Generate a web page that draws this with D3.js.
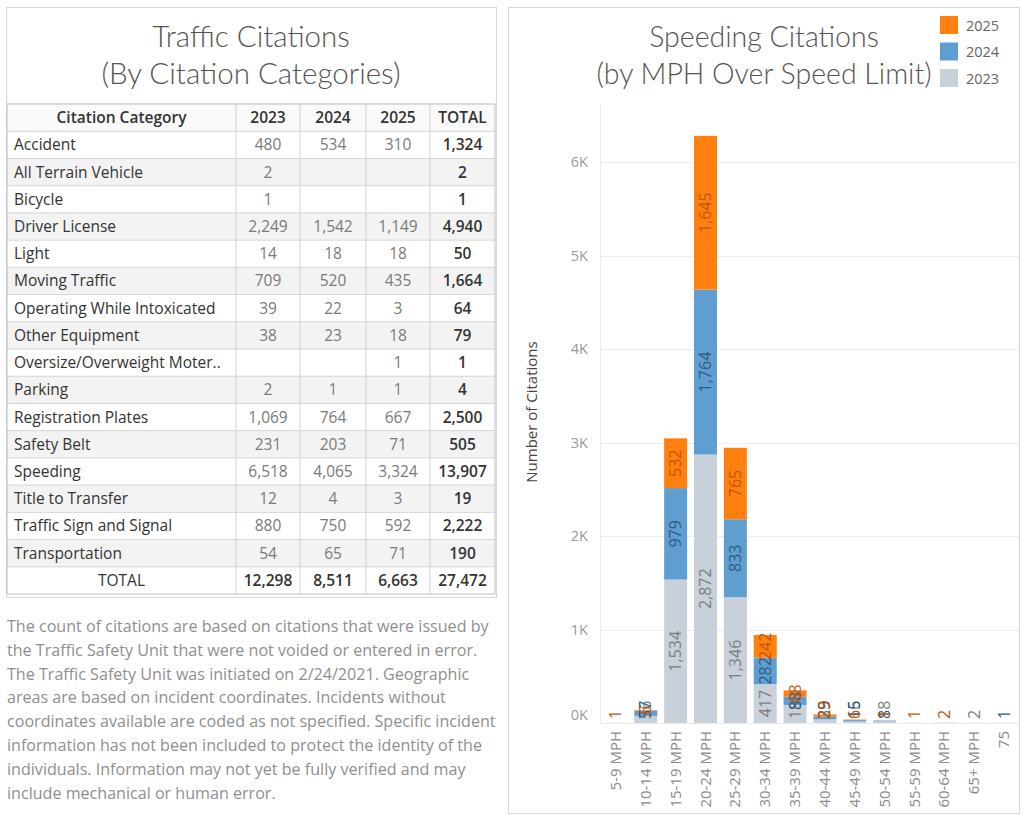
<!DOCTYPE html>
<html>
<head>
<meta charset="utf-8">
<script src="https://cdn.jsdelivr.net/npm/d3@7"></script>
<style>
  body { margin: 0; background: #fff; }
  svg { display: block; font-family: "Open Sans", Lato, sans-serif; }
  .title { font-family: Lato, sans-serif; font-weight: 300; fill: #555; }
</style>
</head>
<body>
<svg id="chart" width="1024" height="825"></svg>
<script>
// table data
const categories = ["Accident", "All Terrain Vehicle", "Bicycle", "Driver License", "Light",
  "Moving Traffic", "Operating While Intoxicated", "Other Equipment", "Oversize/Overweight Moter..",
  "Parking", "Registration Plates", "Safety Belt", "Speeding", "Title to Transfer",
  "Traffic Sign and Signal", "Transportation"];
const years = ["2023", "2024", "2025"];
const cit2023 = [480, 2, 1, 2249, 14, 709, 39, 38, null, 2, 1069, 231, 6518, 12, 880, 54];
const cit2024 = [534, null, null, 1542, 18, 520, 22, 23, null, 1, 764, 203, 4065, 4, 750, 65];
const cit2025 = [310, null, null, 1149, 18, 435, 3, 18, 1, 1, 667, 71, 3324, 3, 592, 71];

// speeding chart data
const speedBins = ["5-9 MPH", "10-14 MPH", "15-19 MPH", "20-24 MPH", "25-29 MPH", "30-34 MPH",
  "35-39 MPH", "40-44 MPH", "45-49 MPH", "50-54 MPH", "55-59 MPH", "60-64 MPH", "65+ MPH", "75"];
const spd2023 = [0, 76, 1534, 2872, 1346, 417, 193, 39, 16, 18, 0, 0, 2, 0];
const spd2024 = [0, 57, 979, 1764, 833, 282, 88, 29, 15, 8, 0, 0, 0, 1];
const spd2025 = [1, 6, 532, 1645, 765, 242, 68, 23, 6, 1, 1, 2, 0, 0];
const yTicks = [0, 1000, 2000, 3000, 4000, 5000, 6000];

const note = [
  "The count of citations are based on citations that were issued by",
  "the Traffic Safety Unit that were not voided or entered in error.",
  "The Traffic Safety Unit was initiated on 2/24/2021. Geographic",
  "areas are based on incident coordinates. Incidents without",
  "coordinates available are coded as not specified. Specific incident",
  "information has not been included to protect the identity of the",
  "individuals. Information may not yet be fully verified and may",
  "include mechanical or human error."
];

const fmt = d3.format(",");
const svg = d3.select("#chart");

// ---------- left panel: table ----------
svg.append("rect")
  .attr("x", 6.5).attr("y", 7.5).attr("width", 490).attr("height", 590)
  .attr("fill", "none").attr("stroke", "#d6d6d6");

svg.append("text").attr("class", "title").attr("x", 251).attr("y", 47).attr("text-anchor", "middle")
  .attr("font-size", 29.5).text("Traffic Citations");
svg.append("text").attr("class", "title").attr("x", 251).attr("y", 84).attr("text-anchor", "middle")
  .attr("font-size", 29.5).text("(By Citation Categories)");

const rows = categories.map((c, i) => {
  const vals = [cit2023[i], cit2024[i], cit2025[i]];
  return { name: c, vals, total: d3.sum(vals) };
});
const colTotals = [cit2023, cit2024, cit2025].map(a => d3.sum(a));
const allRows = [{ header: true }].concat(rows, [{ name: "TOTAL", vals: colTotals, total: d3.sum(colTotals), foot: true }]);

const colEdges = [7, 236, 300, 366, 430, 495];
const rowY = d3.scaleBand().domain(d3.range(allRows.length)).range([104, 594]);
const rh = rowY.bandwidth();

const tbl = svg.append("g");
tbl.selectAll("rect.row").data(allRows).join("rect")
  .attr("x", colEdges[0]).attr("y", (d, i) => rowY(i))
  .attr("width", colEdges[5] - colEdges[0]).attr("height", rh)
  .attr("fill", (d, i) => (i % 2 === 0 && !d.header && !d.foot) ? "#f3f3f3" : (d.header ? "#fafafa" : "#fff"));

// grid lines
tbl.selectAll("line.h").data(d3.range(allRows.length + 1)).join("line")
  .attr("x1", colEdges[0]).attr("x2", colEdges[5])
  .attr("y1", i => 104 + i * rh).attr("y2", i => 104 + i * rh)
  .attr("stroke", i => (i === 0 || i === allRows.length) ? "#bdbdbd" : "#d4d4d4");
tbl.selectAll("line.v").data(colEdges).join("line")
  .attr("x1", d => d).attr("x2", d => d).attr("y1", 104).attr("y2", 594)
  .attr("stroke", (d, i) => (i === 0 || i === 5) ? "#bdbdbd" : "#d0d0d0");

const colMid = i => (colEdges[i] + colEdges[i + 1]) / 2;
allRows.forEach((d, i) => {
  const y = rowY(i) + rh / 2 + 5.5;
  const g = tbl.append("g");
  if (d.header) {
    g.append("text").attr("x", colMid(0)).attr("y", y).attr("text-anchor", "middle")
      .attr("font-size", 15.5).attr("fill", "#333").attr("font-weight", 600).text("Citation Category");
    years.concat(["TOTAL"]).forEach((t, j) => {
      g.append("text").attr("x", colMid(j + 1)).attr("y", y).attr("text-anchor", "middle")
        .attr("font-size", 15.5).attr("fill", "#333").attr("font-weight", 600).text(t);
    });
    return;
  }
  g.append("text")
    .attr("x", d.foot ? colMid(0) : 14).attr("y", y)
    .attr("text-anchor", d.foot ? "middle" : "start")
    .attr("font-size", 15.5).attr("fill", "#333").attr("font-weight", 500).text(d.name);
  d.vals.forEach((v, j) => {
    if (v == null) return;
    g.append("text").attr("x", colMid(j + 1)).attr("y", y).attr("text-anchor", "middle")
      .attr("font-size", 15.5)
      .attr("fill", d.foot ? "#333" : "#7a7a7a")
      .attr("font-weight", d.foot ? 600 : 400).text(fmt(v));
  });
  g.append("text").attr("x", colMid(4)).attr("y", y).attr("text-anchor", "middle")
    .attr("font-size", 15.5).attr("fill", "#333").attr("font-weight", 600).text(fmt(d.total));
});

// note
svg.append("g").selectAll("text").data(note).join("text")
  .attr("x", 7).attr("y", (d, i) => 632 + i * 23.8)
  .attr("font-size", 16.1).attr("fill", "#8f8f8f").text(d => d);

// ---------- right panel: stacked bars ----------
svg.append("rect")
  .attr("x", 508.5).attr("y", 7.5).attr("width", 511).attr("height", 806)
  .attr("fill", "none").attr("stroke", "#d6d6d6");

svg.append("text").attr("class", "title").attr("x", 764).attr("y", 47).attr("text-anchor", "middle")
  .attr("font-size", 28.5).text("Speeding Citations");
svg.append("text").attr("class", "title").attr("x", 764).attr("y", 84).attr("text-anchor", "middle")
  .attr("font-size", 28.5).text("(by MPH Over Speed Limit)");

const colors = { "2023": "#c8d0d9", "2024": "#5f9ed1", "2025": "#ff800e" };
const labelColors = { "2023": "#7d7d7d", "2024": "#2f5b82", "2025": "#c0580d" };

// legend
const legendYears = ["2025", "2024", "2023"];
const lg = svg.append("g").selectAll("g").data(legendYears).join("g")
  .attr("transform", (d, i) => `translate(940, ${16 + i * 26.5})`);
lg.append("rect").attr("width", 18).attr("height", 18).attr("fill", d => colors[d]);
lg.append("text").attr("x", 26).attr("y", 14.5).attr("font-size", 14.5).attr("fill", "#666").text(d => d);

const table = speedBins.map((b, i) => ({ bin: b, "2023": spd2023[i], "2024": spd2024[i], "2025": spd2025[i] }));
const stack = d3.stack().keys(years)(table);

const x = d3.scaleBand().domain(speedBins).range([601, 1019]).paddingInner(0.23).paddingOuter(0.115);
const y = d3.scaleLinear().domain([0, 6600]).range([723, 106]);

// pane line and grid
svg.append("line").attr("x1", 600.5).attr("x2", 600.5).attr("y1", 104).attr("y2", 724)
  .attr("stroke", "#ececec");
svg.append("g").selectAll("line").data(yTicks).join("line")
  .attr("x1", 600).attr("x2", 1019)
  .attr("y1", d => Math.round(y(d)) + 0.5).attr("y2", d => Math.round(y(d)) + 0.5)
  .attr("stroke", "#ececec");

const yAxis = svg.append("g").attr("transform", "translate(592,0)")
  .call(d3.axisLeft(y).tickValues(yTicks).tickSize(0).tickPadding(4).tickFormat(d => (d / 1000) + "K"));
yAxis.select(".domain").remove();
yAxis.selectAll("text").attr("font-size", 14.5).attr("fill", "#9a9a9a")
  .attr("font-family", "Open Sans, sans-serif")
  .attr("dy", d => d === 0 ? "-0.25em" : "0.32em");

svg.append("text").attr("transform", "translate(537,412) rotate(-90)")
  .attr("text-anchor", "middle").attr("font-size", 15).attr("fill", "#444")
  .text("Number of Citations");

// bars
const layers = svg.append("g").selectAll("g").data(stack).join("g")
  .attr("fill", d => colors[d.key]);
layers.selectAll("rect").data(d => d).join("rect")
  .attr("x", d => x(d.data.bin))
  .attr("width", x.bandwidth())
  .attr("y", d => y(d[1]))
  .attr("height", d => y(d[0]) - y(d[1]));

// bar labels (rotated)
stack.forEach(layer => {
  layer.forEach(d => {
    const v = d.data[layer.key];
    if (!v) return;
    const cx = x(d.data.bin) + x.bandwidth() / 2;
    const t = svg.append("text")
      .attr("text-anchor", "middle")
      .attr("font-size", 16)
      .attr("fill", labelColors[layer.key])
      .text(fmt(v));
    const half = t.node().getComputedTextLength() / 2;
    const cy = Math.min((y(d[0]) + y(d[1])) / 2, y(0) - half - 4);
    t.attr("transform", `translate(${cx + 5.5},${cy}) rotate(-90)`);
  });
});

// x labels
svg.append("g").selectAll("text").data(speedBins).join("text")
  .attr("transform", d => `translate(${x(d) + x.bandwidth() / 2 + 5},731) rotate(-90)`)
  .attr("text-anchor", "end").attr("font-size", 15).attr("fill", "#8a8a8a")
  .text(d => d);
</script>
</body>
</html>
